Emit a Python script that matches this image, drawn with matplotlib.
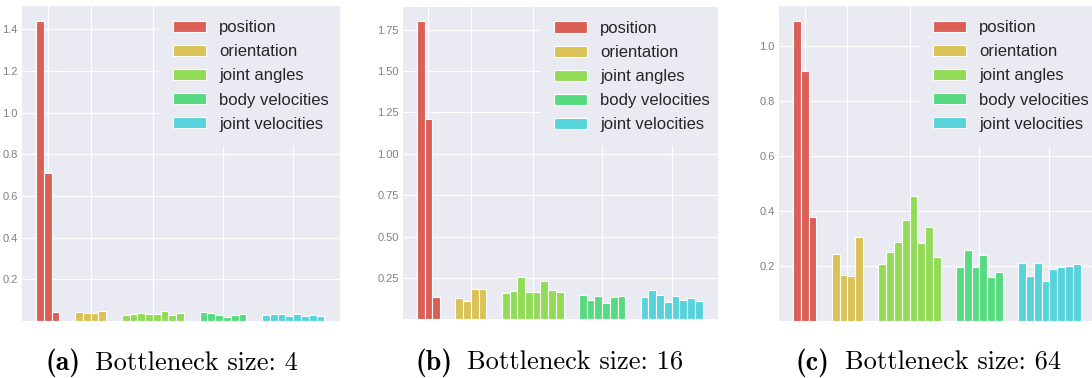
import numpy as np
import matplotlib.pyplot as plt
from matplotlib.patches import Patch

# 特征组及各组的柱数
groups = ["position", "orientation", "joint angles", "body velocities", "joint velocities"]
colors = ["#db5f57", "#dbc257", "#91db57", "#57db80", "#57d3db"]

# 各瓶颈大小下的数值
vals_4 = [
    [1.44, 0.71, 0.045],
    [0.045, 0.037, 0.037, 0.048],
    [0.029, 0.034, 0.040, 0.032, 0.032, 0.048, 0.029, 0.040],
    [0.043, 0.040, 0.029, 0.021, 0.027, 0.034],
    [0.029, 0.034, 0.032, 0.024, 0.034, 0.026, 0.030, 0.026],
]
vals_16 = [
    [1.80, 1.213, 0.137],
    [0.131, 0.111, 0.185, 0.183],
    [0.159, 0.171, 0.256, 0.165, 0.165, 0.231, 0.175, 0.165],
    [0.145, 0.117, 0.141, 0.097, 0.135, 0.141],
    [0.133, 0.175, 0.149, 0.107, 0.139, 0.119, 0.129, 0.113],
]
vals_64 = [
    [1.090, 0.908, 0.379],
    [0.242, 0.167, 0.162, 0.305],
    [0.206, 0.252, 0.287, 0.367, 0.453, 0.283, 0.343, 0.231],
    [0.195, 0.258, 0.196, 0.239, 0.161, 0.177],
    [0.211, 0.163, 0.209, 0.145, 0.189, 0.195, 0.201, 0.207],
]

panels = [
    (vals_4, [0.2, 0.4, 0.6, 0.8, 1.0, 1.2, 1.4], ["0.2", "0.4", "0.6", "0.8", "1.0", "1.2", "1.4"], 1.512,
     "(a)", "Bottleneck size: 4"),
    (vals_16, [0.25, 0.5, 0.75, 1.0, 1.25, 1.5, 1.75], ["0.25", "0.50", "0.75", "1.00", "1.25", "1.50", "1.75"], 1.888,
     "(b)", "Bottleneck size: 16"),
    (vals_64, [0.2, 0.4, 0.6, 0.8, 1.0], ["0.2", "0.4", "0.6", "0.8", "1.0"], 1.144,
     "(c)", "Bottleneck size: 64"),
]

# 坐标轴位置 (图形比例)
axes_pos = [
    [0.0201, 0.1508, 0.2912, 0.8333],
    [0.3690, 0.1550, 0.2885, 0.8270],
    [0.7134, 0.1508, 0.2903, 0.8333],
]
legend_x = [0.431, 0.435, 0.442]
# 标题起点 (像素)
cap_lbl_x = [45, 415, 796]
cap_txt_x = [95, 467, 845]

plt.rcParams['font.family'] = ['Liberation Sans', 'DejaVu Sans']

fig = plt.figure(figsize=(10.92, 3.78), dpi=100)

for k, (vals, yt, ytl, ytop, lbl, cap) in enumerate(panels):
    ax = fig.add_axes(axes_pos[k])
    ax.set_facecolor("#eaeaf2")
    for s in ax.spines.values():
        s.set_visible(False)

    pos = 0
    centers = []
    for g, v in enumerate(vals):
        x = np.arange(pos, pos + len(v))
        ax.bar(x, v, width=1.0, color=colors[g], edgecolor="white", linewidth=0.8, zorder=2)
        centers.append((x[0] + x[-1]) / 2)
        pos += len(v) + 2

    ax.set_xlim(-2.3, 38.5)
    ax.set_ylim(0, ytop)
    ax.set_xticks(centers)
    ax.set_xticklabels([])
    ax.set_yticks(yt)
    ax.set_yticklabels(ytl)
    ax.tick_params(length=0, labelsize=8, labelcolor="#808080", pad=3)
    ax.grid(True, color="white", linewidth=0.8, zorder=0)
    ax.set_axisbelow(True)

    handles = [Patch(facecolor=c, edgecolor="white", linewidth=0.8) for c in colors]
    leg = ax.legend(handles, groups, loc="upper left", bbox_to_anchor=(legend_x[k], 1.0),
                    borderaxespad=0, borderpad=0.84, fontsize=12, handlelength=1.98,
                    handleheight=0.66, handletextpad=0.78, labelspacing=0.55,
                    frameon=True, fancybox=False, facecolor="#eaeaf2", edgecolor="none",
                    framealpha=1.0)
    leg.get_frame().set_clip_path(ax.patch)
    for t in leg.get_texts():
        t.set_color("#262626")

    fig.text(cap_lbl_x[k] / 1092, 1 - 370 / 378, lbl, ha="left", va="baseline",
             fontsize=20, family="cmb10")
    fig.text(cap_txt_x[k] / 1092, 1 - 370 / 378, cap, ha="left", va="baseline",
             fontsize=19, family="cmr10")

fig.savefig("out.png", dpi=100)
